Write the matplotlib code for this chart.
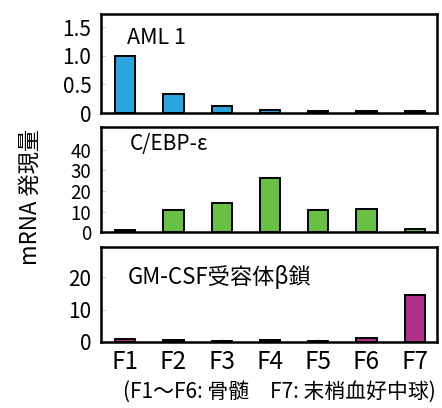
import matplotlib
matplotlib.use("Agg")
import matplotlib.pyplot as plt

plt.rcParams["font.family"] = ["Noto Sans CJK JP", "DejaVu Sans"]

# Data
fractions = ["F1", "F2", "F3", "F4", "F5", "F6", "F7"]
aml1 = [1.0, 0.33, 0.12, 0.06, 0.03, 0.03, 0.03]
cebp_e = [1.0, 11.0, 14.0, 26.5, 11.0, 11.5, 1.5]
gmcsf_rb = [1.0, 0.6, 0.4, 0.5, 0.4, 1.3, 14.5]

panels = [
    ("AML 1", aml1, "#2aa4dc", (0, 1.73), [0, 0.5, 1.0, 1.5], ["0", "0.5", "1.0", "1.5"],
     (0.077, 0.76), 15.5, [0.2285, 0.723, 0.760, 0.2426]),
    ("C/EBP-ε", cebp_e, "#6abf45", (0, 51), [0, 10, 20, 30, 40], ["0", "10", "20", "30", "40"],
     (0.086, 0.84), 15, [0.2285, 0.431, 0.760, 0.257]),
    ("GM-CSF受容体β鎖", gmcsf_rb, "#b02f88", (0, 29.5), [0, 10, 20], ["0", "10", "20"],
     (0.08, 0.68), 16, [0.2285, 0.162, 0.760, 0.233]),
]

fig = plt.figure(figsize=(4.42, 4.08), dpi=100)
x = list(range(len(fractions)))

for i, (title, vals, color, ylim, yt, ytl, tpos, tsize, rect) in enumerate(panels):
    ax = fig.add_axes(rect)
    ax.bar(x, vals, width=0.42, color=color, edgecolor="black", linewidth=1.4, zorder=2)
    ax.set_xlim(-0.5, 6.46)
    ax.set_ylim(*ylim)
    ax.set_yticks(yt)
    # middle panel has tight tick spacing, so slightly smaller digits there
    ax.set_yticklabels(ytl, fontsize=13.5 if i == 1 else 15)
    for s in ax.spines.values():
        s.set_linewidth(1.8)
    ax.tick_params(axis="y", direction="in", length=3, width=0.6, color="#bbbbbb", pad=7)
    ax.tick_params(axis="x", direction="in", length=3, width=0.6, color="#bbbbbb")
    ax.text(tpos[0], tpos[1], title, transform=ax.transAxes, fontsize=tsize,
            ha="left", va="center")
    ax.set_xticks(x)
    if i < 2:
        ax.set_xticklabels([])
    else:
        ax.set_xticklabels(fractions, fontsize=17.5)
        ax.tick_params(axis="x", pad=5)

fig.text(0.068, 0.517, "mRNA 発現量", rotation=90, fontsize=16, ha="center", va="center")
fig.text(0.632, 0.04, "(F1～F6: 骨髄　F7: 末梢血好中球)", fontsize=15,
         ha="center", va="center")

fig.savefig("out.png", dpi=100, facecolor="white")
